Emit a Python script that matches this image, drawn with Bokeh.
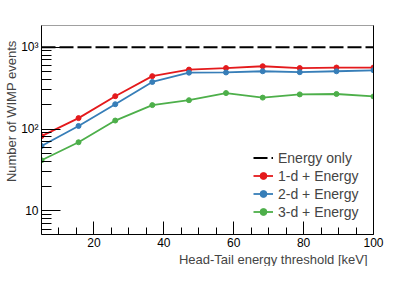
from bokeh.plotting import figure
from bokeh.models import Range1d, FixedTicker, LogAxis, Title, Legend
from bokeh.embed import file_html
from bokeh.resources import INLINE

# ---- data ----
threshold_kev = [5, 15.6, 26.1, 36.7, 47.2, 57.8, 68.3, 78.9, 89.4, 100]
energy_only = [1000] * len(threshold_kev)
one_d = [82, 136, 252, 443, 532, 556, 585, 556, 564, 564]
two_d = [62, 109, 201, 376, 488, 491, 508, 495, 508, 522]
three_d = [41.5, 69, 127, 196, 225, 275, 242, 265, 268, 250]

x_major_ticks = [20, 40, 60, 80, 100]
x_minor_ticks = [10, 15, 25, 30, 35, 45, 50, 55, 65, 70, 75, 85, 90, 95]
y_major_ticks = [10, 100, 1000]
y_minor_ticks = [6, 7, 8, 9, 20, 30, 40, 50, 60, 70, 80, 90,
                 200, 300, 400, 500, 600, 700, 800, 900]
y_tick_labels = {10: "10", 100: "10\u00b2", 1000: "10\u00b3"}

series_labels = ["Energy only", "1-d + Energy", "2-d + Energy", "3-d + Energy"]
colors = ["#e41a1c", "#377eb8", "#4daf4a"]
x_title = "Head-Tail energy threshold [keV]"
y_title = "Number of WIMP events"

FONT = "Liberation Sans"
X_MIN, X_MAX = 5, 100
Y_MIN, Y_MAX = 5.15, 1840

p = figure(width=399, height=266, y_axis_type="log",
           x_range=Range1d(X_MIN, X_MAX), y_range=Range1d(Y_MIN, Y_MAX),
           output_backend="svg", toolbar_location=None,
           min_border_left=41, min_border_right=26,
           min_border_top=25, min_border_bottom=26)
p.background_fill_color = "white"
p.border_fill_color = "white"
p.outline_line_color = "#a0a0a0"
p.grid.visible = False

# axes
for ax in (p.xaxis[0], p.yaxis[0]):
    ax.axis_line_color = "black"
    ax.major_tick_line_color = "black"
    ax.minor_tick_line_color = "black"
    ax.major_tick_out = 0
    ax.minor_tick_out = 0
    ax.major_label_text_font = FONT
    ax.major_label_text_font_size = "12px"
    ax.major_label_text_color = "black"

p.xaxis.ticker = FixedTicker(ticks=x_major_ticks, minor_ticks=x_minor_ticks)
p.xaxis.major_tick_in = 13
p.xaxis.minor_tick_in = 7
p.xaxis.major_label_standoff = 3

p.yaxis.ticker = FixedTicker(ticks=y_major_ticks, minor_ticks=y_minor_ticks)
p.yaxis.major_label_overrides = y_tick_labels
p.yaxis.major_tick_in = 19
p.yaxis.minor_tick_in = 10
p.yaxis.major_label_standoff = 3

right_axis = LogAxis(ticker=FixedTicker(ticks=[]), axis_line_color="black",
                     major_tick_in=0, major_tick_out=0,
                     minor_tick_in=0, minor_tick_out=0)
p.add_layout(right_axis, "right")

# titles
p.add_layout(Title(text=x_title, align="right",
                   text_font=FONT, text_font_size="13px",
                   text_font_style="normal", standoff=0, offset=6), "below")
p.add_layout(Title(text=y_title, align="right",
                   text_font=FONT, text_font_size="13px",
                   text_font_style="normal", standoff=0, offset=15), "left")

# data
r0 = p.line(threshold_kev, energy_only, line_color="black", line_width=2,
            line_dash="14 4")
items = [(series_labels[0], [r0])]
for lab, ys, c in zip(series_labels[1:], [one_d, two_d, three_d], colors):
    ln = p.line(threshold_kev, ys, line_color=c, line_width=1.8)
    sc = p.scatter(threshold_kev, ys, marker="circle", size=5,
                   fill_color=c, line_color=c)
    items.append((lab, [ln, sc]))

legend = Legend(items=items, location=(212, 14),
                background_fill_alpha=0, border_line_alpha=0,
                padding=0, margin=0, spacing=1,
                glyph_width=20, glyph_height=17, label_height=17,
                label_standoff=5,
                label_text_font=FONT, label_text_font_size="14px")
p.add_layout(legend, "center")

open("out.html", "w").write(file_html(p, INLINE))
